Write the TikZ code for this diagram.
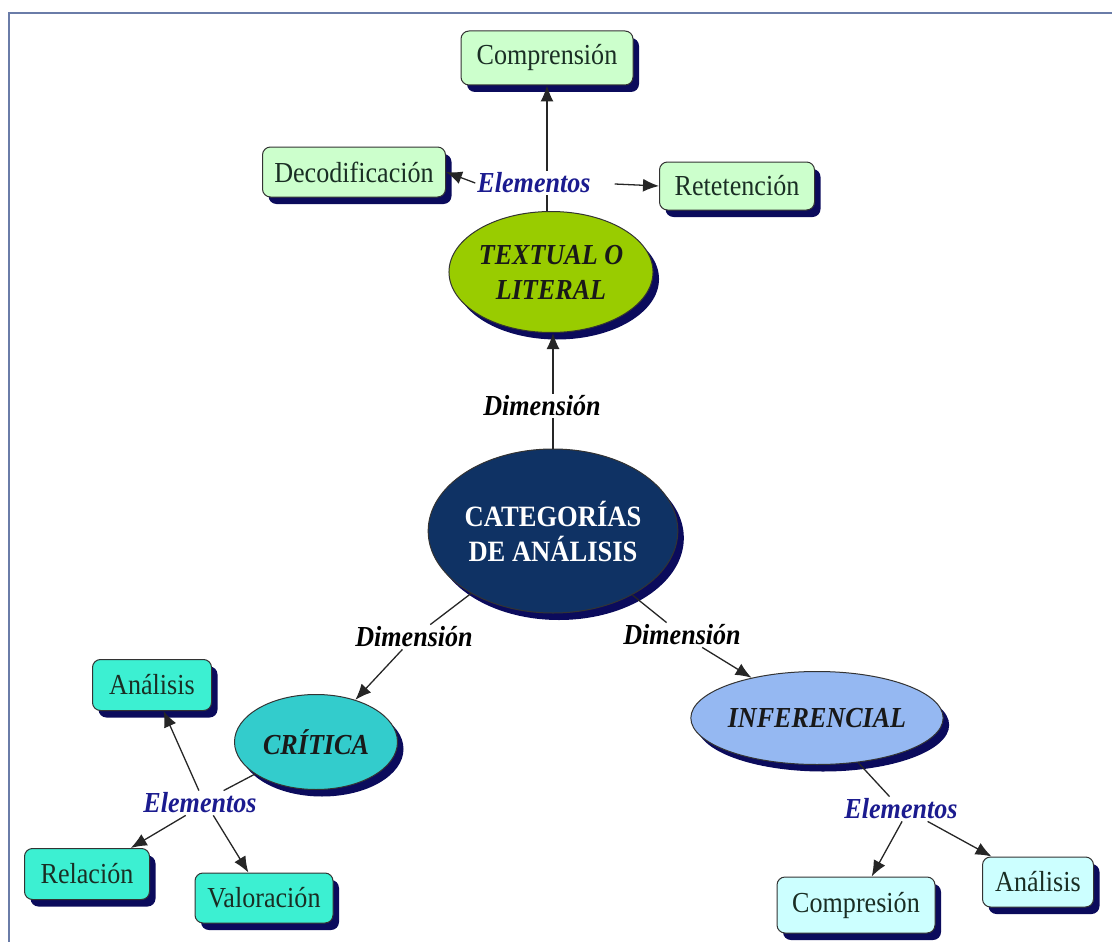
\documentclass[tikz,border=0pt]{standalone}
\usepackage{fontspec}
\setmainfont{Liberation Serif}[FakeStretch=0.9]
\usetikzlibrary{arrows.meta,shapes.geometric,shadows}
\definecolor{shadowc}{HTML}{0B0B5C}
\definecolor{greenbox}{HTML}{CCFFCC}
\definecolor{tealbox}{HTML}{3CF0D2}
\definecolor{cyanbox}{HTML}{CCFFFF}
\definecolor{textualc}{HTML}{99CC00}
\definecolor{catc}{HTML}{0F3264}
\definecolor{criticac}{HTML}{33CCCC}
\definecolor{inferc}{HTML}{95B8F2}
\definecolor{elemc}{HTML}{1B1B8F}
\definecolor{boxtext}{HTML}{1A2E24}
\definecolor{framec}{HTML}{6A7CA8}
\begin{document}
\begin{tikzpicture}[x=1pt,y=-1pt,
  shad/.style={drop shadow={shadow xshift=6pt,shadow yshift=-7pt,fill=shadowc,opacity=1}},
  box/.style={shad,draw=black!80,line width=1pt,rounded corners=8pt,inner sep=0pt,
    font=\fontsize{29}{33}\selectfont,text=boxtext},
  oval/.style={shad,ellipse,draw=black!80,line width=1pt,inner sep=0pt,align=center,
    font=\fontsize{29}{35}\selectfont\bfseries\itshape,text=black!90},
  dimlab/.style={inner sep=2pt,font=\fontsize{29}{32}\selectfont\bfseries\itshape,text=black},
  elemlab/.style={inner sep=2pt,font=\fontsize{29}{32}\selectfont\bfseries\itshape,text=elemc},
  arr/.style={-{Latex[length=16pt,width=13pt]},line width=1.3pt,draw=black!85},
  ln/.style={line width=1.3pt,draw=black!85}]
\useasboundingbox (0,0) rectangle (1112,942);
\draw[framec,line width=2pt] (9,942) -- (9,13) -- (1112,13);

% nodes
\node[box,fill=greenbox,minimum width=172pt,minimum height=54pt] (comp) at (547,58) {Comprensión};
\node[box,fill=greenbox,minimum width=183pt,minimum height=50pt] (deco) at (354,172) {Decodificación};
\node[box,fill=greenbox,minimum width=155pt,minimum height=48pt] (ret) at (737,186) {Retetención};
\node[elemlab] (elemT) at (534,183) {Elementos};
\node[oval,fill=textualc,minimum width=202pt,minimum height=121pt] (textual) at (551,272) {TEXTUAL O\\LITERAL};
\node[dimlab] (dimT) at (542,406) {Dimensión};
\node[oval,fill=catc,minimum width=234pt,minimum height=164pt,text=white,
  font=\fontsize{29.5}{35}\selectfont\bfseries] (cat) at (553,531) {CATEGORÍAS\\DE ANÁLISIS};
\node[dimlab] (dimL) at (414,637) {Dimensión};
\node[dimlab] (dimR) at (682,635) {Dimensión};
\node[oval,fill=criticac,minimum width=163pt,minimum height=95pt] (crit) at (316,742) {CRÍTICA};
\node[oval,fill=inferc,minimum width=214pt,minimum height=93pt] (inf) at (817,718) {INFERENCIAL};
\node[elemlab] (elemL) at (200,803) {Elementos};
\node[elemlab] (elemR) at (901,809) {Elementos};
\node[box,fill=tealbox,minimum width=119pt,minimum height=51pt] (anaL) at (152,685) {Análisis};
\node[box,fill=tealbox,minimum width=125pt,minimum height=51pt] (rel) at (87,874) {Relación};
\node[box,fill=tealbox,minimum width=138pt,minimum height=50pt] (val) at (264,898) {Valoración};
\node[box,fill=cyanbox,minimum width=158pt,minimum height=56pt] (compr) at (856,905) {Compresión};
\node[box,fill=cyanbox,minimum width=111pt,minimum height=50pt] (anaR) at (1038,882) {Análisis};

% connectors
\draw[ln] (elemT.south -| comp.south) -- (textual.north -| comp.south);
\draw[arr] (elemT.north -| comp.south) -- (comp.south);
\draw[arr] (elemT.west) -- (deco.east);
\draw[arr,shorten <=22pt] (elemT.east) -- (ret.west);
\draw[ln] (cat.north) -- (dimT.south -| cat.north);
\draw[arr] (dimT.north -| cat.north) -- (textual.south -| cat.north);
\draw[ln] (cat) -- (dimL);
\draw[arr] (dimL) -- (crit);
\draw[ln] (cat) -- (dimR);
\draw[arr] (dimR) -- (inf);
\draw[ln] (crit) -- (elemL);
\draw[arr] (elemL.95) -- (anaL);
\draw[arr] (elemL.-139) -- (rel);
\draw[arr] (elemL.-43) -- (val);
\draw[ln] (inf) -- (elemR);
\draw[arr] (elemR.-85) -- (compr);
\draw[arr] (elemR.-25) -- (anaR);
\end{tikzpicture}
\end{document}
